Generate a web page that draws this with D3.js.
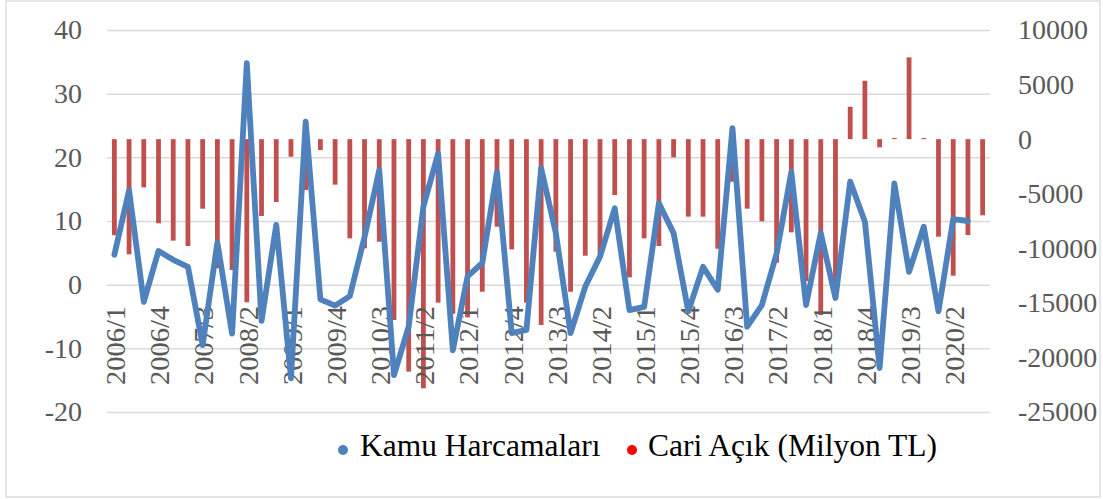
<!DOCTYPE html>
<html>
<head>
<meta charset="utf-8">
<script src="https://cdn.jsdelivr.net/npm/d3@7"></script>
<style>
  body { margin: 0; background: #fff; }
  svg text { font-family: "Liberation Serif", "Times New Roman", serif; }
</style>
</head>
<body>
<svg id="mainSVG" width="1103" height="499"></svg>
<script>
// quarters 2006/1 .. 2020/4
const quarters = ["2006/1","2006/2","2006/3","2006/4","2007/1","2007/2","2007/3","2007/4",
  "2008/1","2008/2","2008/3","2008/4","2009/1","2009/2","2009/3","2009/4",
  "2010/1","2010/2","2010/3","2010/4","2011/1","2011/2","2011/3","2011/4",
  "2012/1","2012/2","2012/3","2012/4","2013/1","2013/2","2013/3","2013/4",
  "2014/1","2014/2","2014/3","2014/4","2015/1","2015/2","2015/3","2015/4",
  "2016/1","2016/2","2016/3","2016/4","2017/1","2017/2","2017/3","2017/4",
  "2018/1","2018/2","2018/3","2018/4","2019/1","2019/2","2019/3","2019/4",
  "2020/1","2020/2","2020/3","2020/4"];

// Kamu Harcamalari (left axis)
const kamu = [4.7, 14.8, -2.7, 5.3, 3.9, 2.8, -9.5, 6.6, -7.7, 34.8, -5.7, 9.4, -14.7, 25.6, -2.3,
  -3.3, -1.8, 7.5, 18.0, -14.2, -6.6, 12.3, 20.6, -10.3, 1.3, 3.4, 17.7, -7.6, -7.1, 18.3,
  8.1, -7.6, -0.3, 4.4, 12.0, -4.0, -3.5, 12.8, 8.1, -4.2, 2.8, -0.8, 24.6, -6.6, -3.2,
  4.9, 17.7, -3.2, 8.1, -2.1, 16.2, 9.9, -13.1, 15.9, 2.0, 9.1, -4.2, 10.3, 10.0, null];

// Cari Acik, Milyon TL (right axis)
const cari = [-8800, -10550, -4420, -7710, -9300, -9790, -6370, -11830, -11990, -14950, -7040,
  -5760, -1610, -4660, -1000, -4170, -9090, -10000, -9400, -16570, -21300, -22830, -14980,
  -16000, -16330, -13980, -8020, -10100, -14980, -17030, -10310, -13980, -10680, -10600,
  -5120, -12660, -9090, -9790, -1670, -7100, -7100, -10040, -3900, -6370, -7530, -11320,
  -8540, -13000, -16110, -14300, 2970, 5350, -750, 100, 7490, 100, -8940, -12510, -8790, -6980];

const leftTicks = [-20, -10, 0, 10, 20, 30, 40];
const rightTicks = [-25000, -20000, -15000, -10000, -5000, 0, 5000, 10000];
const seriesNames = ["Kamu Harcamaları", "Cari Açık (Milyon TL)"];

const svg = d3.select("#mainSVG");
const plotL = 107, plotR = 990, plotT = 30, plotB = 412;

svg.append("rect")
    .attr("x", 6).attr("y", 1).attr("width", 1094).attr("height", 496)
    .attr("fill", "#fff").attr("stroke", "#d9d9d9").attr("stroke-width", 1.3);

const x = d3.scaleBand().domain(quarters).range([plotL, plotR]).padding(0);
const yL = d3.scaleLinear().domain([-20, 40]).range([plotB, plotT]);
const yR = d3.scaleLinear().domain([-25000, 10000]).range([plotB, plotT]);

// gridlines + left labels
const gL = svg.append("g")
    .attr("transform", `translate(${plotL},0)`)
    .call(d3.axisLeft(yL).tickValues(leftTicks).tickSize(-(plotR - plotL)).tickPadding(25).tickFormat(d => String(d)));
gL.select(".domain").remove();
gL.selectAll(".tick line").attr("stroke", "#d9d9d9").attr("stroke-width", 1.5);
gL.selectAll(".tick text")
    .attr("fill", "#595959").style("font-size", "28px")
    .attr("font-family", null);

// right labels
const gR = svg.append("g")
    .attr("transform", `translate(${plotR},0)`)
    .call(d3.axisRight(yR).tickValues(rightTicks).tickSize(0).tickPadding(28).tickFormat(d => String(d)));
gR.select(".domain").remove();
gR.selectAll(".tick text")
    .attr("fill", "#595959").style("font-size", "28px")
    .attr("font-family", null);

// bars
const barW = 4.8;
svg.append("g").selectAll("rect")
    .data(cari)
    .join("rect")
    .attr("x", (d, i) => x(quarters[i]) + x.bandwidth() / 2 - barW / 2)
    .attr("y", d => Math.min(yR(d), yR(0)))
    .attr("width", barW)
    .attr("height", d => Math.abs(yR(d) - yR(0)))
    .attr("fill", "#c0504d");

// category labels (every 3rd quarter), squeezed like the original
const labelQ = quarters.filter((q, i) => i % 3 === 0);
svg.append("g").selectAll("text")
    .data(labelQ)
    .join("text")
    .attr("transform", d => `translate(${x(d) + x.bandwidth() / 2 + 1},306) rotate(-90)`)
    .attr("text-anchor", "end")
    .attr("dy", "0.35em")
    .attr("textLength", 79)
    .attr("lengthAdjust", "spacingAndGlyphs")
    .attr("fill", "#595959")
    .style("font-size", "28px")
    .text(d => d);

// line
const line = d3.line()
    .defined(d => d != null)
    .x((d, i) => x(quarters[i]) + x.bandwidth() / 2)
    .y(d => yL(d));
svg.append("path")
    .datum(kamu)
    .attr("d", line)
    .attr("fill", "none")
    .attr("stroke", "#4f81bd")
    .attr("stroke-width", 5.8)
    .attr("stroke-linejoin", "round")
    .attr("stroke-linecap", "round");

// legend
const legend = svg.append("g");
const legItems = [
  {name: seriesNames[0], color: "#4f81bd", cx: 343, tx: 360},
  {name: seriesNames[1], color: "#ff0000", cx: 632, tx: 648}
];
legItems.forEach(it => {
  legend.append("circle").attr("cx", it.cx).attr("cy", 450).attr("r", 5).attr("fill", it.color);
  legend.append("text").attr("x", it.tx).attr("y", 456)
      .attr("fill", "#000").style("font-size", "31.5px").text(it.name);
});
</script>
</body>
</html>
